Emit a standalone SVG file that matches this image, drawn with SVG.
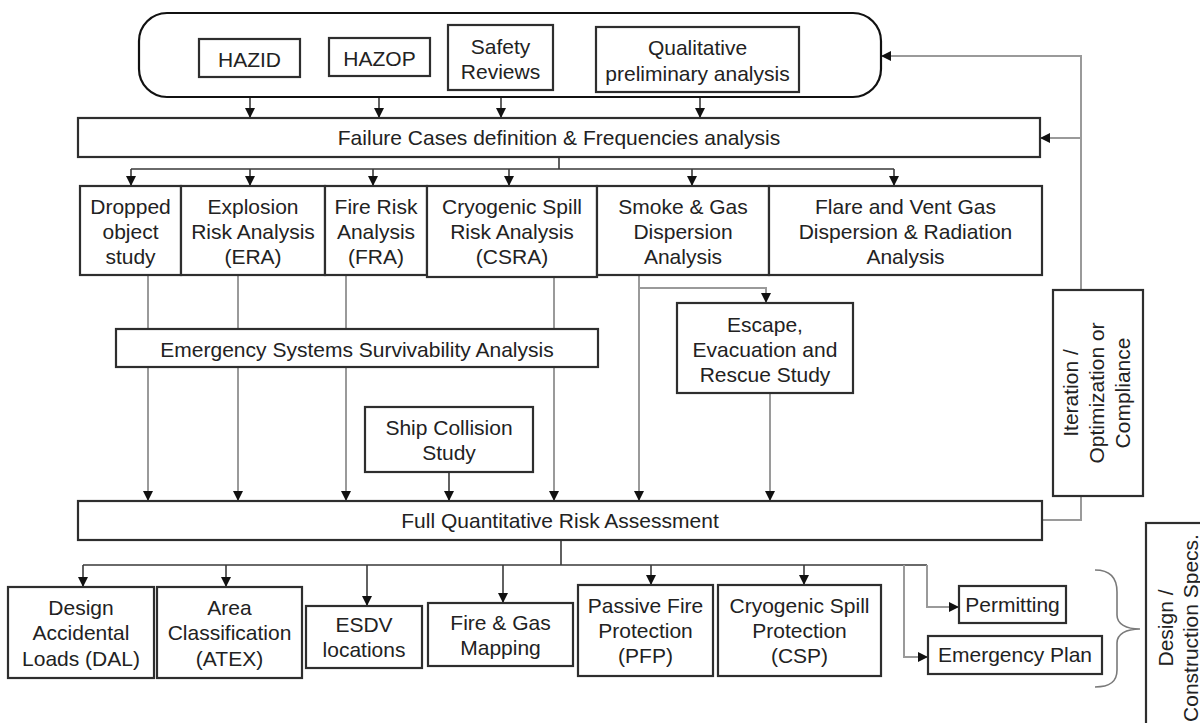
<svg xmlns="http://www.w3.org/2000/svg" width="1200" height="723" viewBox="0 0 1200 723">
  <style>
    .box { fill: #ffffff; stroke: #2e2e2e; stroke-width: 2.2; }
    .lbl { font-family: "Liberation Sans", Arial, sans-serif; font-size: 21px; fill: #222222; text-anchor: middle; }
    .dark { fill: none; stroke: #3a3a3a; stroke-width: 1.6; }
    .grey { fill: none; stroke: #9a9a9a; stroke-width: 2; }
    .brace { fill: none; stroke: #7a7a7a; stroke-width: 1.6; }
  </style>
  <defs>
    <marker id="arrow" viewBox="0 0 10 10" refX="10" refY="5" markerUnits="userSpaceOnUse" markerWidth="10" markerHeight="10" orient="auto">
      <path d="M0,0 L10,5 L0,10 Z" fill="#111111"/>
    </marker>
  </defs>
  <rect width="1200" height="723" fill="#ffffff"/>

  <!-- connectors -->
  <g id="connectors">
    <!-- preliminary studies into failure cases -->
    <path class="dark" d="M250,77 V118" marker-end="url(#arrow)"/>
    <path class="dark" d="M379,76 V118" marker-end="url(#arrow)"/>
    <path class="dark" d="M501,90 V118" marker-end="url(#arrow)"/>
    <path class="dark" d="M700,92 V118" marker-end="url(#arrow)"/>
    <!-- failure cases fan-out -->
    <path class="dark" d="M559,157 V169 M131,169 H894"/>
    <path class="dark" d="M131,169 V186" marker-end="url(#arrow)"/>
    <path class="dark" d="M250,169 V186" marker-end="url(#arrow)"/>
    <path class="dark" d="M373,169 V186" marker-end="url(#arrow)"/>
    <path class="dark" d="M509,169 V186" marker-end="url(#arrow)"/>
    <path class="dark" d="M692,169 V186" marker-end="url(#arrow)"/>
    <path class="dark" d="M894,169 V186" marker-end="url(#arrow)"/>
    <!-- analyses into full QRA -->
    <path class="grey" d="M148,275 V501" marker-end="url(#arrow)"/>
    <path class="grey" d="M238,275 V501" marker-end="url(#arrow)"/>
    <path class="grey" d="M346,275 V501" marker-end="url(#arrow)"/>
    <path class="grey" d="M554,277 V501" marker-end="url(#arrow)"/>
    <path class="grey" d="M639,275 V501" marker-end="url(#arrow)"/>
    <path class="grey" d="M639,288 H766 V303" marker-end="url(#arrow)"/>
    <path class="grey" d="M770,393 V501" marker-end="url(#arrow)"/>
    <path class="dark" d="M449,472 V501" marker-end="url(#arrow)"/>
    <!-- iteration loop -->
    <path class="grey" d="M1042,520 H1081 V496"/>
    <path class="grey" d="M1081,290 V56 H881" marker-end="url(#arrow)"/>
    <path class="grey" d="M1081,138 H1040" marker-end="url(#arrow)"/>
    <!-- QRA outputs -->
    <path class="dark" d="M561,540 V565 M83,565 H927"/>
    <path class="dark" d="M83,565 V587" marker-end="url(#arrow)"/>
    <path class="dark" d="M226,565 V587" marker-end="url(#arrow)"/>
    <path class="dark" d="M367,565 V606" marker-end="url(#arrow)"/>
    <path class="dark" d="M503,565 V603" marker-end="url(#arrow)"/>
    <path class="dark" d="M651,565 V585" marker-end="url(#arrow)"/>
    <path class="dark" d="M804,565 V585" marker-end="url(#arrow)"/>
    <path class="grey" d="M927,565 V607 H959" marker-end="url(#arrow)"/>
    <path class="grey" d="M904,565 V657 H928" marker-end="url(#arrow)"/>
  </g>

  <!-- qualitative studies -->
  <g id="qualitative-group">
    <rect class="box" x="139" y="13" width="742" height="84" rx="28" ry="28" style="stroke:#111111"/>
  </g>
  <g id="hazid">
    <rect class="box" x="199" y="39" width="101" height="38"/>
    <text class="lbl" x="249.5" y="67">HAZID</text>
  </g>
  <g id="hazop">
    <rect class="box" x="329" y="38" width="101" height="38"/>
    <text class="lbl" x="379.5" y="66">HAZOP</text>
  </g>
  <g id="safety-reviews">
    <rect class="box" x="448" y="25" width="105" height="65"/>
    <text class="lbl" x="500.5" y="54">Safety</text>
    <text class="lbl" x="500.5" y="79">Reviews</text>
  </g>
  <g id="qualitative-analysis">
    <rect class="box" x="596" y="27" width="203" height="65"/>
    <text class="lbl" x="697.5" y="55">Qualitative</text>
    <text class="lbl" x="697.5" y="81">preliminary analysis</text>
  </g>

  <g id="failure-cases">
    <rect class="box" x="78" y="118" width="962" height="39"/>
    <text class="lbl" x="559" y="145">Failure Cases definition &amp; Frequencies analysis</text>
  </g>

  <!-- consequence analyses -->
  <g id="dropped-object">
    <rect class="box" x="80" y="186" width="101" height="89"/>
    <text class="lbl" x="130.5" y="214">Dropped</text>
    <text class="lbl" x="130.5" y="239">object</text>
    <text class="lbl" x="130.5" y="264">study</text>
  </g>
  <g id="explosion-risk">
    <rect class="box" x="181" y="186" width="144" height="89"/>
    <text class="lbl" x="253" y="214">Explosion</text>
    <text class="lbl" x="253" y="239">Risk Analysis</text>
    <text class="lbl" x="253" y="264">(ERA)</text>
  </g>
  <g id="fire-risk">
    <rect class="box" x="325" y="186" width="102" height="89"/>
    <text class="lbl" x="376" y="214">Fire Risk</text>
    <text class="lbl" x="376" y="239">Analysis</text>
    <text class="lbl" x="376" y="264">(FRA)</text>
  </g>
  <g id="cryogenic-spill-risk">
    <rect class="box" x="427" y="186" width="170" height="91"/>
    <text class="lbl" x="512" y="214">Cryogenic Spill</text>
    <text class="lbl" x="512" y="239">Risk Analysis</text>
    <text class="lbl" x="512" y="264">(CSRA)</text>
  </g>
  <g id="smoke-gas">
    <rect class="box" x="597" y="186" width="172" height="89"/>
    <text class="lbl" x="683" y="214">Smoke &amp; Gas</text>
    <text class="lbl" x="683" y="239">Dispersion</text>
    <text class="lbl" x="683" y="264">Analysis</text>
  </g>
  <g id="flare-vent">
    <rect class="box" x="769" y="186" width="273" height="89"/>
    <text class="lbl" x="905.5" y="214">Flare and Vent Gas</text>
    <text class="lbl" x="905.5" y="239">Dispersion &amp; Radiation</text>
    <text class="lbl" x="905.5" y="264">Analysis</text>
  </g>

  <g id="survivability">
    <rect class="box" x="116" y="329" width="482" height="38"/>
    <text class="lbl" x="357" y="357">Emergency Systems Survivability Analysis</text>
  </g>
  <g id="escape-evacuation">
    <rect class="box" x="677" y="303" width="176" height="90"/>
    <text class="lbl" x="765" y="332">Escape,</text>
    <text class="lbl" x="765" y="357">Evacuation and</text>
    <text class="lbl" x="765" y="382">Rescue Study</text>
  </g>
  <g id="ship-collision">
    <rect class="box" x="365" y="407" width="168" height="65"/>
    <text class="lbl" x="449" y="435">Ship Collision</text>
    <text class="lbl" x="449" y="460">Study</text>
  </g>

  <g id="full-qra">
    <rect class="box" x="78" y="501" width="964" height="39"/>
    <text class="lbl" x="560" y="528">Full Quantitative Risk Assessment</text>
  </g>

  <g id="iteration">
    <rect class="box" x="1053" y="290" width="90" height="206"/>
    <g transform="translate(1098,393) rotate(-90)">
      <text class="lbl" x="0" y="-20">Iteration /</text>
      <text class="lbl" x="0" y="6">Optimization or</text>
      <text class="lbl" x="0" y="32">Compliance</text>
    </g>
  </g>

  <!-- design outputs -->
  <g id="design-loads">
    <rect class="box" x="8" y="587" width="146" height="91"/>
    <text class="lbl" x="81" y="615">Design</text>
    <text class="lbl" x="81" y="640">Accidental</text>
    <text class="lbl" x="81" y="666">Loads (DAL)</text>
  </g>
  <g id="area-classification">
    <rect class="box" x="157" y="587" width="145" height="91"/>
    <text class="lbl" x="229.5" y="615">Area</text>
    <text class="lbl" x="229.5" y="640">Classification</text>
    <text class="lbl" x="229.5" y="666">(ATEX)</text>
  </g>
  <g id="esdv">
    <rect class="box" x="306" y="606" width="116" height="62"/>
    <text class="lbl" x="364" y="632">ESDV</text>
    <text class="lbl" x="364" y="657">locations</text>
  </g>
  <g id="fire-gas-mapping">
    <rect class="box" x="428" y="603" width="145" height="63"/>
    <text class="lbl" x="500.5" y="629.5">Fire &amp; Gas</text>
    <text class="lbl" x="500.5" y="654.5">Mapping</text>
  </g>
  <g id="passive-fire">
    <rect class="box" x="578" y="585" width="135" height="91"/>
    <text class="lbl" x="645.5" y="613">Passive Fire</text>
    <text class="lbl" x="645.5" y="638">Protection</text>
    <text class="lbl" x="645.5" y="663">(PFP)</text>
  </g>
  <g id="cryogenic-spill-protection">
    <rect class="box" x="718" y="585" width="163" height="91"/>
    <text class="lbl" x="799.5" y="613">Cryogenic Spill</text>
    <text class="lbl" x="799.5" y="638">Protection</text>
    <text class="lbl" x="799.5" y="663">(CSP)</text>
  </g>
  <g id="permitting">
    <rect class="box" x="959" y="586" width="107" height="37"/>
    <text class="lbl" x="1012.5" y="612">Permitting</text>
  </g>
  <g id="emergency-plan">
    <rect class="box" x="928" y="636" width="174" height="38"/>
    <text class="lbl" x="1015" y="662">Emergency Plan</text>
  </g>

  <path class="brace" d="M1095,570 C1110,570 1117,578 1117,592 L1117,615 C1117,624 1126,629 1140,629 C1126,629 1117,634 1117,643 L1117,670 C1117,682 1110,687 1095,687"/>

  <g id="design-specs">
    <rect class="box" x="1146" y="523" width="70" height="212"/>
    <g transform="translate(1172,628) rotate(-90)">
      <text class="lbl" x="0" y="1">Design /</text>
      <text class="lbl" x="0" y="26">Construction Specs.</text>
    </g>
  </g>
</svg>
